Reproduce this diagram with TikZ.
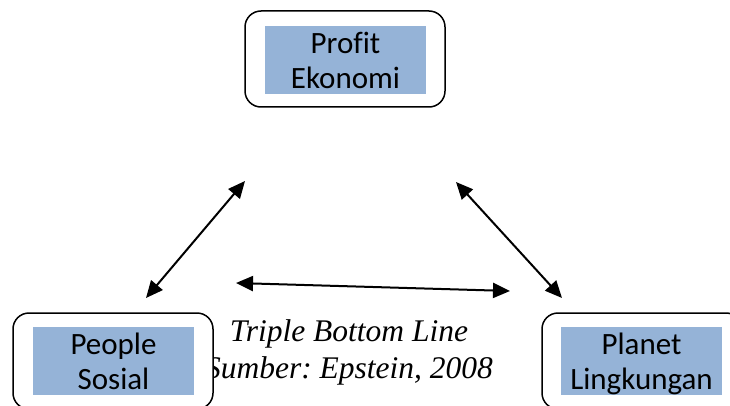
\documentclass[tikz,border=0pt]{standalone}
\usepackage{fontspec}
\setmainfont[Ligatures=NoCommon]{Carlito}
\newfontfamily\didafont{Liberation Serif}
\usetikzlibrary{arrows.meta}
\definecolor{bluriq}{RGB}{149,179,215}

\begin{document}
\begin{tikzpicture}[x=1pt,y=-1pt,font=\fontsize{31}{35}\selectfont,
  cornice/.style={draw,line width=1.5pt,rounded corners=16pt,fill=white,
    minimum width=200pt,minimum height=96pt},
  riquadro/.style={fill=bluriq,align=center,inner sep=0pt,
    minimum width=161pt,minimum height=68pt},
  freccia/.style={line width=2pt,
    {Triangle[length=17pt,width=15pt]}-{Triangle[length=17pt,width=15pt]}}]

\useasboundingbox (0,0) rectangle (730,406);
\clip (0,0) rectangle (730,406);

%didascalia
\node[font=\fontsize{31.5}{37}\selectfont\didafont\itshape\frenchspacing,align=center]
  (dida) at (349,352) {Triple Bottom Line\\Sumber: Epstein, 2008};

%riquadri
\node[cornice] (profitbox) at (345,59) {};
\node[riquadro] (profit) at (345.5,60) {Profit\\Ekonomi};
\node[cornice] (peoplebox) at (113,361) {};
\node[riquadro] (people) at (113.5,361) {People\\Sosial};
\node[cornice] (planetbox) at (642,361) {};
\node[riquadro] (planet) at (641.5,361) {Planet\\\smash{Lingkungan}};

%frecce
\coordinate (ps1) at (146,298);
\coordinate (ps2) at (245,181);
\coordinate (pl1) at (456,182);
\coordinate (pl2) at (562,298);
\coordinate (or1) at (236,283);
\coordinate (or2) at (510,291);
\draw[freccia] (ps1) -- (ps2);
\draw[freccia] (pl1) -- (pl2);
\draw[freccia] (or1) -- (or2);

\end{tikzpicture}
\end{document}
